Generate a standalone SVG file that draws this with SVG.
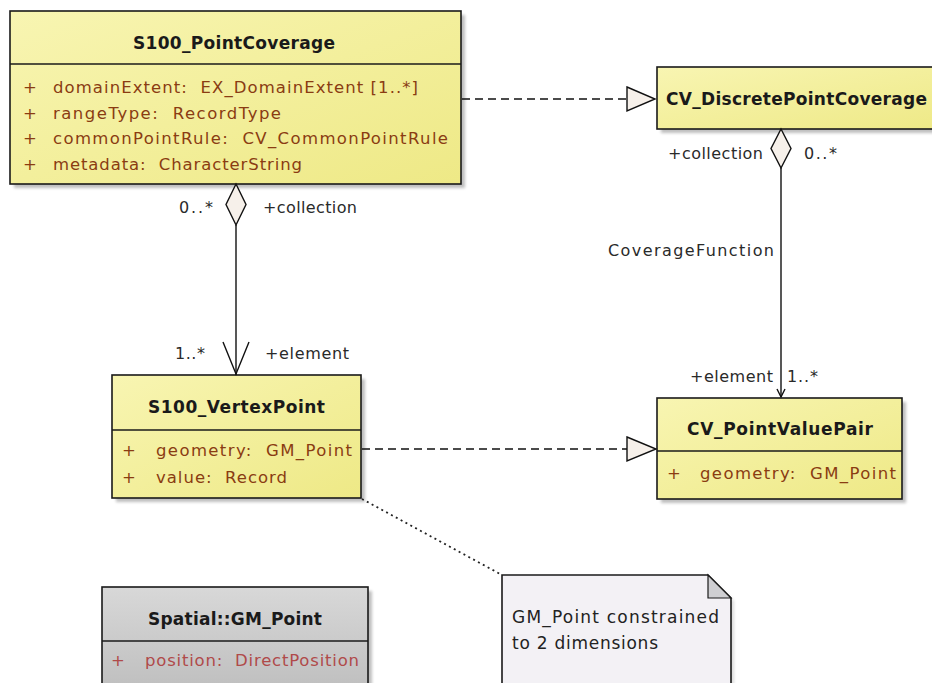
<svg xmlns="http://www.w3.org/2000/svg" width="932" height="683" viewBox="0 0 932 683">
<defs>
<linearGradient id="yel" x1="0" y1="0" x2="1" y2="1">
<stop offset="0" stop-color="#F8F5B2"/>
<stop offset="1" stop-color="#EEE986"/>
</linearGradient>
<linearGradient id="gry" x1="0" y1="0" x2="0" y2="1">
<stop offset="0" stop-color="#D8D8D8"/>
<stop offset="1" stop-color="#BDBDBD"/>
</linearGradient>
<filter id="blur" x="-5%" y="-5%" width="110%" height="110%">
<feGaussianBlur stdDeviation="1.5"/>
</filter>
</defs>
<style>
text{font-family:"DejaVu Sans","Liberation Sans",sans-serif;white-space:pre}
.title{font-size:17px;font-weight:bold;fill:#1a1a1a}
.attr{font-size:16.5px;fill:#8a3c12}
.attr2{font-size:16.5px;fill:#b04a4a}
.lbl{font-size:16px;fill:#2a2a2a}
.note{font-size:17px;fill:#222}
.box{fill:url(#yel);stroke:#1a1a1a;stroke-width:1.6}
.gbox{fill:url(#gry);stroke:#1a1a1a;stroke-width:1.6}
.shadow{fill:#8a8a8a;opacity:0.55;filter:url(#blur)}
.sep{stroke:#1a1a1a;stroke-width:1.6}
.ln{stroke:#111;stroke-width:1.4;fill:none}
.dash{stroke:#111;stroke-width:1.4;fill:none;stroke-dasharray:8 5}
.dot{stroke:#222;stroke-width:1.8;fill:none;stroke-dasharray:2 3.5}
.head{fill:#F6F0EA;stroke:#111;stroke-width:1.4}
</style>
<rect width="932" height="683" fill="#ffffff"/>

<g id="S100_PointCoverage">
<rect class="shadow" x="14" y="15" width="451" height="173"/>
<rect class="box" x="10" y="11" width="451" height="173"/>
<line class="sep" x1="10" y1="64" x2="461" y2="64"/>
<text class="title" x="133" y="48.5" textLength="202" lengthAdjust="spacing">S100_PointCoverage</text>
<text class="attr" x="23" y="93">+</text>
<text class="attr" x="53" y="93" textLength="365" lengthAdjust="spacing">domainExtent:  EX_DomainExtent [1..*]</text>
<text class="attr" x="23" y="119">+</text>
<text class="attr" x="53" y="119" textLength="228" lengthAdjust="spacing">rangeType:  RecordType</text>
<text class="attr" x="23" y="144">+</text>
<text class="attr" x="53" y="144" textLength="395" lengthAdjust="spacing">commonPointRule:  CV_CommonPointRule</text>
<text class="attr" x="23" y="170">+</text>
<text class="attr" x="53" y="170" textLength="249" lengthAdjust="spacing">metadata:  CharacterString</text>
</g>

<g id="CV_DiscretePointCoverage">
<rect class="shadow" x="661" y="71" width="290" height="62"/>
<rect class="box" x="657" y="67" width="290" height="62"/>
<text class="title" x="666" y="105" textLength="261" lengthAdjust="spacing">CV_DiscretePointCoverage</text>
</g>

<g id="CV_PointValuePair">
<rect class="shadow" x="661" y="402" width="245" height="101"/>
<rect class="box" x="657" y="398" width="245" height="101"/>
<line class="sep" x1="657" y1="451" x2="902" y2="451"/>
<text class="title" x="687" y="435" textLength="186" lengthAdjust="spacing">CV_PointValuePair</text>
<text class="attr" x="667" y="479">+</text>
<text class="attr" x="700" y="479" textLength="196" lengthAdjust="spacing">geometry:  GM_Point</text>
</g>

<g id="S100_VertexPoint">
<rect class="shadow" x="116" y="379" width="249" height="123"/>
<rect class="box" x="112" y="375" width="249" height="123"/>
<line class="sep" x1="112" y1="430" x2="361" y2="430"/>
<text class="title" x="148" y="412.5" textLength="177" lengthAdjust="spacing">S100_VertexPoint</text>
<text class="attr" x="122" y="456">+</text>
<text class="attr" x="156" y="456" textLength="196" lengthAdjust="spacing">geometry:  GM_Point</text>
<text class="attr" x="122" y="482.5">+</text>
<text class="attr" x="156" y="482.5" textLength="131" lengthAdjust="spacing">value:  Record</text>
</g>

<g id="Spatial_GM_Point">
<rect class="shadow" x="106" y="591" width="266" height="110"/>
<rect class="gbox" x="102" y="587" width="266" height="110"/>
<line class="sep" x1="102" y1="641" x2="368" y2="641"/>
<text class="title" x="148" y="625" textLength="174" lengthAdjust="spacing">Spatial::GM_Point</text>
<text class="attr2" x="111" y="666">+</text>
<text class="attr2" x="145" y="666" textLength="214" lengthAdjust="spacing">position:  DirectPosition</text>
</g>

<g id="Note">
<polygon points="505,578 711,578 734,601 734,700 505,700" fill="#9a9a9a" opacity="0.35" filter="url(#blur)"/>
<polygon points="502,575 708,575 731,598 731,700 502,700" fill="#F3F1F5" stroke="#1a1a1a" stroke-width="1.6"/>
<polygon points="708,575 708,598 731,598" fill="#CFCFD2" stroke="#1a1a1a" stroke-width="1.2"/>
<text class="note" x="512" y="623" textLength="207" lengthAdjust="spacing">GM_Point constrained</text>
<text class="note" x="512" y="649" textLength="146" lengthAdjust="spacing">to 2 dimensions</text>
</g>

<g id="connectors">
<line class="dash" x1="462" y1="99" x2="627" y2="99"/>
<polygon class="head" points="627,87 655,99 627,111"/>

<line class="dash" x1="362" y1="449" x2="627" y2="449"/>
<polygon class="head" points="627,437 656,449 627,461"/>

<polygon class="head" points="781,129 791,148.5 781,168 771,148.5"/>
<line class="ln" x1="781" y1="168" x2="781" y2="397"/>
<polyline class="ln" points="777,389 781,397 785,389"/>
<text class="lbl" x="668" y="159" textLength="95" lengthAdjust="spacing">+collection</text>
<text class="lbl" x="804" y="159" textLength="33" lengthAdjust="spacing">0..*</text>
<text class="lbl" x="608" y="256" textLength="166" lengthAdjust="spacing">CoverageFunction</text>
<text class="lbl" x="690" y="382" textLength="83" lengthAdjust="spacing">+element</text>
<text class="lbl" x="787" y="382" textLength="31" lengthAdjust="spacing">1..*</text>

<polygon class="head" points="236,184 246,204.5 236,225 226,204.5"/>
<line class="ln" x1="236" y1="225" x2="236" y2="375"/>
<polyline class="ln" points="223,342 236,374 249,342"/>
<text class="lbl" x="179" y="213" textLength="34" lengthAdjust="spacing">0..*</text>
<text class="lbl" x="263" y="213" textLength="94" lengthAdjust="spacing">+collection</text>
<text class="lbl" x="175" y="359" textLength="30" lengthAdjust="spacing">1..*</text>
<text class="lbl" x="265" y="359" textLength="84" lengthAdjust="spacing">+element</text>

<line class="dot" x1="362" y1="499" x2="502" y2="575"/>
</g>
</svg>
